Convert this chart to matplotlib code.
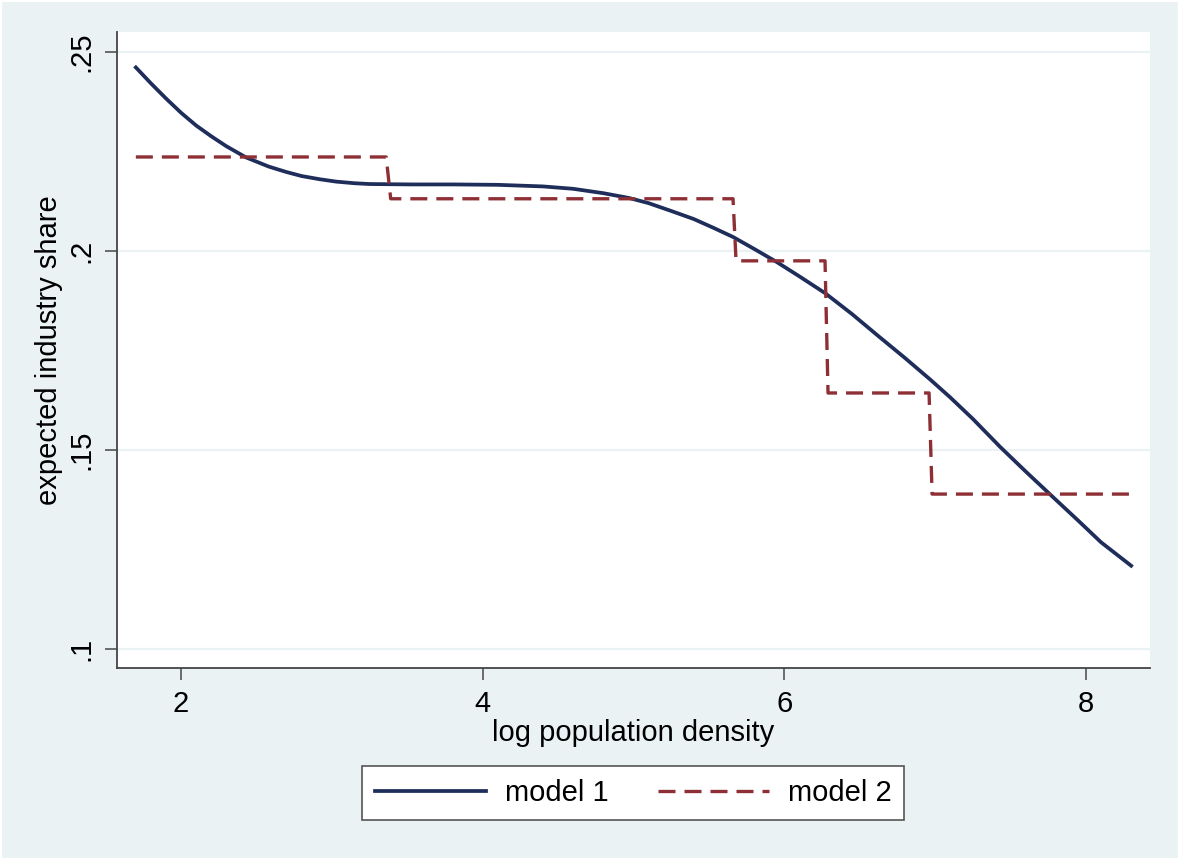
import matplotlib.pyplot as plt
from matplotlib.patches import Rectangle

# model 1: smooth fit
x1 = [1.70, 1.80, 1.90, 2.00, 2.10, 2.20, 2.30, 2.43, 2.58, 2.70, 2.80, 2.92,
      3.03, 3.15, 3.25, 3.53, 3.80, 4.10, 4.40, 4.60, 4.80, 4.97, 5.10, 5.26,
      5.40, 5.53, 5.66, 5.80, 5.95, 6.10, 6.27, 6.45, 6.63, 6.80, 6.97, 7.10,
      7.25, 7.43, 7.60, 7.78, 7.95, 8.10, 8.30]
y1 = [0.2461, 0.2421, 0.2383, 0.2347, 0.2315, 0.2288, 0.2263, 0.2235, 0.2212,
      0.2198, 0.2188, 0.2180, 0.2174, 0.2170, 0.2168, 0.2167, 0.2167, 0.2166,
      0.2162, 0.2156, 0.2145, 0.2133, 0.2120, 0.2099, 0.2080, 0.2058, 0.2035,
      0.2005, 0.1972, 0.1936, 0.1894, 0.1841, 0.1784, 0.1731, 0.1676, 0.1632,
      0.1578, 0.1508, 0.1446, 0.1382, 0.1322, 0.1268, 0.1209]

# model 2: step function
x2 = [1.70, 3.36, 3.39, 5.66, 5.68, 6.27, 6.29, 6.96, 6.98, 8.30]
y2 = [0.2236, 0.2236, 0.2131, 0.2131, 0.1975, 0.1975, 0.1643, 0.1643, 0.1389, 0.1389]

xticks = [2, 4, 6, 8]
yticks = [0.10, 0.15, 0.20, 0.25]
ytick_labels = [".1", ".15", ".2", ".25"]

bg = "#eaf2f3"
navy = "#1f2d5a"
maroon = "#8e2f35"

plt.rcParams["font.family"] = ["Liberation Sans", "DejaVu Sans"]

fig = plt.figure(figsize=(11.8, 8.6), dpi=100, facecolor=bg)
fig.patches.append(Rectangle((0, 0), 1, 1, transform=fig.transFigure,
                             fill=False, edgecolor="white", linewidth=3))
ax = fig.add_axes([117 / 1180, 1 - 668 / 860, 1033 / 1180, 636 / 860])
ax.set_facecolor("white")

for yt in yticks:
    ax.axhline(yt, color=bg, lw=1.6, zorder=0)

ax.plot(x1, y1, color=navy, lw=2.7, label="model 1", solid_joinstyle="round")
ax.plot(x2, y2, color=maroon, lw=2.4, linestyle=(0, (5.1, 2.7)), label="model 2")

ax.set_xlim(1.575, 8.425)
ax.set_ylim(0.0952, 0.255)
ax.set_xticks(xticks)
ax.set_xticklabels([str(t) for t in xticks])
ax.set_yticks(yticks)
ax.set_yticklabels(ytick_labels, rotation=90, va="center")

for s in ["top", "right"]:
    ax.spines[s].set_visible(False)
for s in ["left", "bottom"]:
    ax.spines[s].set_color("#444444")
    ax.spines[s].set_linewidth(1.3)

ax.tick_params(axis="both", length=8.5, width=1.2, color="#555555",
               labelsize=21, pad=7)

ax.set_xlabel("log population density", fontsize=21)
ax.set_ylabel("expected industry share", fontsize=21)
ax.xaxis.set_label_coords(0.5, (668 - 719) / 636)
ax.yaxis.set_label_coords((63 - 117) / 1033, 0.5)

leg = fig.legend(loc="center", bbox_to_anchor=(633 / 1180, 1 - 793 / 860),
                 ncol=2, fontsize=21, handlelength=3.8, handletextpad=0.65,
                 columnspacing=1.7, frameon=True, fancybox=False,
                 borderpad=0.45, borderaxespad=0)
leg.get_frame().set_edgecolor("#555555")
leg.get_frame().set_linewidth(1.2)
leg.get_frame().set_facecolor("white")
leg.get_frame().set_alpha(1)

fig.savefig("out.png", dpi=100, facecolor=bg)
